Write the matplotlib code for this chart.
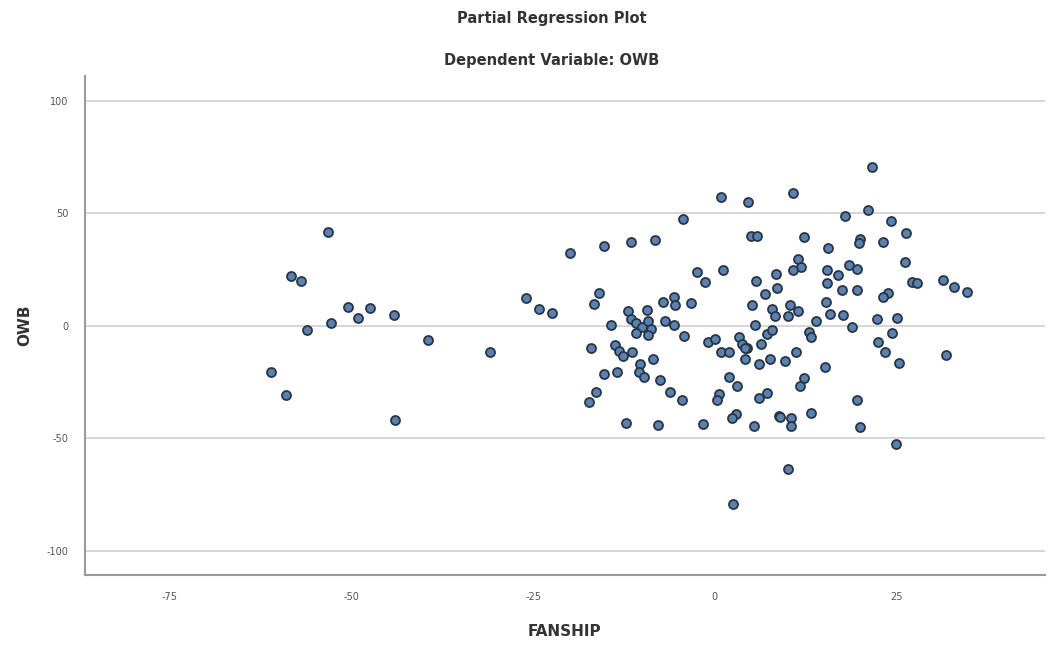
import matplotlib
matplotlib.use("Agg")
import matplotlib.pyplot as plt

plt.rcParams["axes.unicode_minus"] = False

# FANSHIP (x) and OWB (y) partial residuals
fanship = [
    -53.3, -58.3, -57.0, -56.2, -50.5, -52.8, -49.1, -47.5, -44.2, -39.5, -31.0,
    -61.1, -59.0, -44.0, -26.0, -24.2, -22.4,
    0.9, 4.6, -4.4, -20.0, -15.3, -11.6, -8.2, 4.9, 5.8, -2.4, -1.3, 1.1, 5.6,
    8.4, 8.6, 6.9, -15.9, -16.7, -11.9, -9.4, -7.2, -5.7, -5.5, -3.3, 5.1,
    7.8, 8.2, -14.3, -11.5, -10.8, -10.0, -9.2, -8.8, -10.8, -9.2, -6.9, -5.7,
    -4.2, 5.5, -0.9, 0.05, 3.3, 3.7, 4.4, 4.1, 0.9, 1.9, -17.0, -13.7, -13.2,
    -12.6, -11.4, -10.3, -8.5, 6.1, 7.6,
    -10.5, -9.7, -15.3, -13.5, -7.5, -6.2, -4.6, -16.4, -17.3, -12.2, -7.9,
    -1.7, 1.9, 3.0, 0.5, 0.3, 2.9, 2.4, 5.4, 6.1, 7.2, 8.8, 2.5, 6.4, 7.2, 7.9,
    21.6, 10.8, 21.0, 17.9, 24.3, 26.3, 12.3, 15.5, 19.9, 19.8, 23.1, 26.2,
    11.5, 11.9, 10.7, 15.4, 16.9, 18.5, 19.5, 15.4, 17.5, 19.5, 27.1, 27.8,
    31.4, 32.9, 34.7, 23.8, 23.2, 10.0, 10.4, 11.5, 15.3, 15.9, 17.6, 13.9,
    22.3, 25.0, 18.9, 24.4, 12.9, 13.2, 22.5,
    4.2, 9.7, 11.1, 23.4, 25.4, 31.8, 15.2, 12.2, 11.7, 9.0, 10.5, 10.5, 13.2,
    19.6, 20.0, 24.9, 10.1,
]
owb = [
    41.7, 21.9, 19.9, -1.9, 8.5, 1.2, 3.4, 7.9, 4.9, -6.4, -11.6,
    -20.7, -30.9, -42.1, 12.2, 7.3, 5.5,
    57.3, 54.9, 47.6, 32.3, 35.6, 37.2, 37.9, 39.7, 39.7, 24.0, 19.3, 24.7, 20.1,
    23.1, 16.8, 14.1, 14.4, 9.5, 6.7, 7.0, 10.4, 12.9, 9.4, 10.3, 9.2,
    7.6, 4.5, 0.4, 3.0, 1.0, -0.5, 2.0, -1.5, -3.4, -4.0, 1.9, 0.4,
    -4.5, 0.4, -7.4, -5.9, -5.2, -8.2, -9.7, -14.9, -11.9, -11.9, -10.1, -8.5, -11.2,
    -13.4, -11.9, -17.1, -14.9, -17.1, -14.9,
    -20.8, -22.8, -21.6, -20.4, -24.2, -29.3, -33.0, -29.5, -33.9, -43.2, -44.2,
    -43.6, -22.6, -26.9, -30.2, -33.0, -39.4, -41.2, -44.8, -32.0, -29.8, -40.2, -79.2,
    -8.2, -3.7, -1.9,
    70.7, 58.8, 51.3, 48.7, 46.6, 41.4, 39.4, 34.7, 38.7, 36.8, 37.2, 28.3,
    29.8, 26.0, 24.9, 24.9, 22.6, 26.8, 25.3, 18.9, 15.9, 15.9, 19.3, 18.9,
    20.4, 17.1, 15.2, 14.4, 12.6, 4.2, 9.4, 6.7, 10.4, 5.2, 4.8, 1.9,
    3.0, 3.3, -0.4, -3.3, -3.0, -5.2, -7.4,
    -9.7, -15.6, -11.5, -11.5, -16.4, -12.9, -18.2, -23.4, -26.8, -40.6, -40.9, -44.6, -39.0,
    -33.0, -45.1, -52.8, -63.5,
]

x_ticks = [-75, -50, -25, 0, 25]
y_ticks = [-100, -50, 0, 50, 100]

fig = plt.figure(figsize=(10.49, 6.45), dpi=100)
ax = fig.add_axes([0.081, 0.108, 0.915, 0.774])

ax.scatter(fanship, owb, s=42, facecolor="#5583b8", edgecolor="#2a3440",
           linewidth=1.3, zorder=3)

ax.set_xlim(-86.7, 45.4)
ax.set_ylim(-111, 111)
ax.set_xticks(x_ticks)
ax.set_yticks(y_ticks)
ax.tick_params(axis="both", length=0, labelsize=7, labelcolor="#555555")
ax.tick_params(axis="y", pad=12)
ax.tick_params(axis="x", pad=12)

ax.grid(axis="y", color="#cfcfcf", linewidth=1.2, zorder=0)
ax.set_axisbelow(True)
for side in ["top", "right"]:
    ax.spines[side].set_visible(False)
for side in ["left", "bottom"]:
    ax.spines[side].set_color("#9a9a9a")
    ax.spines[side].set_linewidth(1.5)

ax.set_xlabel("FANSHIP", fontsize=11, fontweight="bold", color="#333333", labelpad=16)
ax.set_ylabel("OWB", fontsize=11, fontweight="bold", color="#333333", labelpad=10)

fig.text(552 / 1049, 1 - 18 / 645, "Partial Regression Plot", ha="center", va="center",
         fontsize=10.5, fontweight="bold", color="#333333")
fig.text(552 / 1049, 1 - 60 / 645, "Dependent Variable: OWB", ha="center", va="center",
         fontsize=10.5, fontweight="bold", color="#333333")

fig.savefig("out.png", dpi=100)
